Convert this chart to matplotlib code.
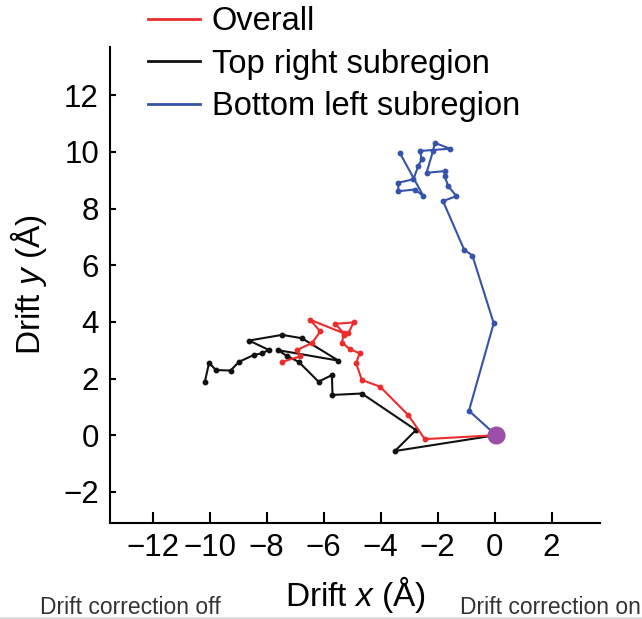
import matplotlib
matplotlib.use("Agg")
import matplotlib.pyplot as plt
from matplotlib.lines import Line2D

plt.rcParams['font.family'] = ['Liberation Sans', 'DejaVu Sans']
plt.rcParams['mathtext.fontset'] = 'custom'
plt.rcParams['mathtext.rm'] = 'Liberation Sans'
plt.rcParams['mathtext.it'] = 'Liberation Sans:italic'

# drift traces (Angstrom)
overall_x = [0.05, -2.45, -3.03, -4.02, -4.66, -4.86, -4.74, -5.07, -5.36, -5.30, -5.13,
             -4.95, -5.59, -5.30, -6.47, -6.12, -6.41, -6.93, -6.82, -7.46]
overall_y = [0.0, -0.14, 0.71, 1.71, 1.95, 2.54, 2.89, 3.03, 3.27, 3.54, 3.60,
             3.98, 3.93, 3.60, 4.07, 3.66, 3.25, 3.01, 2.78, 2.59]

top_right_x = [0.05, -3.50, -2.76, -4.66, -5.69, -5.71, -6.18, -6.88, -7.30, -7.60, -5.48,
               -6.76, -7.46, -8.62, -7.93, -8.16, -8.45, -8.97, -9.27, -9.79, -10.02, -10.17]
top_right_y = [0.0, -0.56, 0.18, 1.47, 1.42, 2.12, 1.89, 2.59, 2.80, 3.00, 2.63,
               3.42, 3.54, 3.34, 3.01, 2.89, 2.83, 2.59, 2.28, 2.30, 2.56, 1.89]

bottom_left_x = [0.05, -0.90, -0.03, -0.78, -1.07, -1.81, -1.34, -1.63, -1.75, -1.75, -2.39,
                 -2.16, -2.10, -1.57, -2.62, -2.56, -2.68, -2.85, -3.38, -3.38, -2.80, -2.50, -3.32]
bottom_left_y = [0.0, 0.86, 3.95, 6.34, 6.55, 8.26, 8.44, 8.79, 9.14, 9.32, 9.26,
                 10.03, 10.32, 10.11, 10.03, 9.73, 9.50, 9.03, 8.91, 8.61, 8.67, 8.44, 9.95]

x_ticks = [-12, -10, -8, -6, -4, -2, 0, 2]
y_ticks = [-2, 0, 2, 4, 6, 8, 10, 12]

colors = {'Overall': '#ee2b2b', 'Top right subregion': '#111111', 'Bottom left subregion': '#3553a8'}

W, H = 642, 619
fig = plt.figure(figsize=(W / 100, H / 100), dpi=100)
ax = fig.add_axes([110 / W, (H - 523) / H, (600 - 110) / W, (523 - 47) / H])

lw, ms = 1.5, 3.2
ax.plot(overall_x, overall_y, '-o', color=colors['Overall'], lw=lw, ms=ms, zorder=3)
ax.plot(top_right_x, top_right_y, '-o', color=colors['Top right subregion'], lw=lw, ms=ms, zorder=2)
ax.plot(bottom_left_x, bottom_left_y, '-o', color=colors['Bottom left subregion'], lw=lw, ms=ms, zorder=2)
ax.plot([0.05], [0.0], 'o', color='#9a4ea6', ms=12, zorder=4)

ax.set_xlim(-13.5, 3.7)
ax.set_ylim(-3.1, 13.7)
ax.set_xticks(x_ticks)
ax.set_yticks(y_ticks)
ax.set_xticklabels(['\u2212%d' % -t if t < 0 else str(t) for t in x_ticks])
ax.set_yticklabels(['\u2212%d' % -t if t < 0 else str(t) for t in y_ticks])

for side in ['top', 'right']:
    ax.spines[side].set_visible(False)
for side in ['left', 'bottom']:
    ax.spines[side].set_linewidth(1.5)
ax.tick_params(axis='x', direction='in', length=8, width=1.5, labelsize=22.5, pad=7)
ax.tick_params(axis='y', direction='in', length=4, width=1.5, labelsize=22.5, pad=8)

ax.set_xlabel('Drift $\\mathit{x}$ (\u00c5)', fontsize=24, labelpad=8)
ax.set_ylabel('Drift $\\mathit{y}$ (\u00c5)', fontsize=24, labelpad=10)

handles = [Line2D([], [], color=c, lw=2) for c in colors.values()]
fig.legend(handles, list(colors.keys()), loc='upper left', bbox_to_anchor=(148 / W, 1 - 6 / H),
           frameon=False, fontsize=23.5, handlelength=1.6, handletextpad=0.35, labelspacing=0.36,
           borderpad=0, borderaxespad=0)

fig.text(40 / W, 1 - 608 / H, 'Drift correction off', fontsize=16.5, color='#333333', va='center')
fig.text(460 / W, 1 - 608 / H, 'Drift correction on', fontsize=16.5, color='#333333', va='center')
fig.add_artist(plt.Line2D([0, 1], [1.5 / H, 1.5 / H], color='#dddddd', lw=2, transform=fig.transFigure))

fig.savefig('out.png', dpi=100)
